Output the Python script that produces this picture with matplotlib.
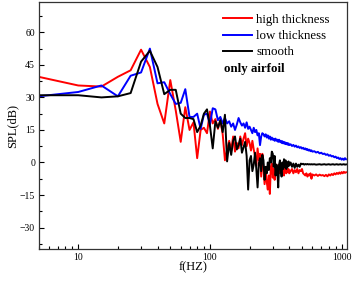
import numpy as np
import matplotlib
matplotlib.use('Agg')
import matplotlib.pyplot as plt
from matplotlib.ticker import LogLocator, MultipleLocator, FixedLocator, NullFormatter

plt.rcParams['font.family'] = ['Liberation Serif', 'DejaVu Serif']

# sampling grid of the spectra (Hz)
freq = np.concatenate([np.arange(5, 401, 5), np.arange(410, 601, 10), np.arange(620, 1081, 20)])

high_thickness = [
    39.5, 35.5, 35, 39.5, 42.5, 52, 44, 27, 18, 38,
    24, 9.5, 25.5, 15, 18.5, 2, 15, 16, 13.5, 23.5,
    18, 20, 15.5, 19.5, 13, 1, 6, 10, 5.5, 12,
    5, 9, 6.5, 12, 8, 11, 13.5, 7.5, 11, 9,
    5.5, 10, 6, 3, -1.5, 6.5, 1, 4, -6.5, 4,
    -3, -10, -3, -9, -12.5, -6, -14.5, -2, -0.5, -7,
    -3, -8, -2, -1, -5, -4, -1, -5, -4, -1,
    -5, -3, -6, -2, -4, -5, -3, -4.5, -3, -5,
    -4, -3, -5, -3.5, -4.5, -3, -5, -3.5, -4, -3,
    -5, -5.5, -6, -5, -6.5, -5.5, -6, -5, -7.5, -5.5,
    -6, -5.5, -6.2, -5.6, -6, -5.8, -6.3, -5.7, -6.4, -5.5,
    -6, -5.3, -5.8, -5, -5.5, -4.8, -5.3, -4.6, -5.2, -4.4,
    -5, -4.3, -4.8, -4.5,
]

low_thickness = [
    30.5, 32.5, 35.5, 30.5, 40, 41.5, 52.5, 36.5, 37, 31.5,
    27, 27.5, 33.8, 21, 21, 22.5, 15.5, 22, 22.5, 17.5,
    25, 24.5, 19.5, 21, 18, 20.5, 18, 19, 16.5, 18,
    15, 17.5, 20.5, 18.5, 17, 18, 16, 18.5, 15.5, 16.5,
    15, 13.5, 16, 14, 15, 12.5, 13.5, 8, 12, 13.5,
    13, 12, 13, 11.5, 12.5, 11, 12, 10.5, 11.5, 10.5,
    11, 10, 11, 10, 10.5, 9.5, 10.5, 9.5, 10, 9,
    9.8, 8.8, 9.5, 8.6, 9.2, 8.4, 9, 8.2, 8.8, 8,
    8.4, 7.6, 8.1, 7.3, 7.8, 7.0, 7.4, 6.7, 7.1, 6.4,
    6.8, 6.1, 6.5, 5.8, 6.2, 5.5, 5.9, 5.2, 5.6, 5.0,
    5.2, 4.6, 4.9, 4.2, 4.5, 3.9, 4.1, 3.5, 3.8, 3.1,
    3.4, 2.8, 3.0, 2.4, 2.7, 2.0, 2.3, 1.6, 2.0, 1.3,
    1.8, 1.2, 2.0, 1.5,
]

smooth = [
    31, 31, 30, 30.5, 32, 46.5, 51.5, 44, 31.5, 33.5,
    33.5, 22.5, 20.5, 20.5, 20, 14, 17, 22.5, 24.5, 17,
    6.5, 19, 16, 19.5, 14, 22, 0.5, 9, 3.5, 10,
    12, 6, 8, 11, 4.5, 7, 9.5, 3, -12.5, 1,
    3, -4, -1, 4.5, -3, -11.5, -0.5, 2, -4, 3.5,
    1, -8, -2, -5, 0, -3.5, 2, 0, 5, 4,
    -2, 3, -6, -1, -4, -11.5, -1, 1, -3, -6.5,
    0, -3, 1.5, -2, 1, -3, 0, -2, 0.5, -1.5,
    0, -2, -0.5, -2.5, -0.5, -2, -1, -2, -0.5, -0.8,
    -0.6, -1, -0.7, -0.9, -0.7, -0.9, -0.8, -0.9, -0.8, -0.9,
    -0.8, -1.0, -0.9, -0.8, -1.0, -0.9, -0.8, -1.0, -0.9, -0.8,
    -1.0, -0.9, -0.8, -1.0, -0.9, -0.8, -1.0, -0.9, -0.8, -1.0,
    -0.9, -0.8, -1.0, -0.9,
]

fig = plt.figure(figsize=(3.54, 2.81), dpi=100)
ax = fig.add_axes([0.109, 0.113, 0.870, 0.880])

ax.plot(freq, high_thickness, color='#ff0000', lw=1.4, label='high thickness')
ax.plot(freq, low_thickness, color='#0000ff', lw=1.4, label='low thickness')
ax.plot(freq, smooth, color='black', lw=1.4, label='smooth')

ax.set_xscale('log')
ax.set_xlim(5, 1090)
ax.set_ylim(-40, 74)
ax.set_xticks([10, 100, 1000])
ax.set_xticklabels(['10', '100', '1000'])
ax.xaxis.set_minor_locator(LogLocator(base=10, subs=np.arange(2, 10)))
ax.xaxis.set_minor_formatter(NullFormatter())
ax.yaxis.set_major_locator(FixedLocator([-30, -15, 0, 15, 30, 45, 60]))
ax.yaxis.set_minor_locator(MultipleLocator(7.5))

ax.tick_params(which='both', direction='in', top=False, right=False, labelsize=7, pad=2.5)
ax.tick_params(which='major', length=3.5, width=0.8)
ax.tick_params(which='minor', length=2, width=0.8)
for sp in ax.spines.values():
    sp.set_linewidth(0.9)
    sp.set_color('#333333')

ax.set_xlabel('f(HZ)', fontsize=9, labelpad=0)
ax.set_ylabel('SPL(dB)', fontsize=9, labelpad=1)

ax.legend(loc='upper left', fontsize=9.3, frameon=False, handlelength=2.3,
          handletextpad=0.3, labelspacing=0.32, borderaxespad=0, borderpad=0,
          bbox_to_anchor=(0.598, 0.952))
ax.text(0.602, 0.727, 'only airfoil', fontsize=9.3, fontweight='bold',
        transform=ax.transAxes, va='center', ha='left')

fig.savefig('out.png', dpi=100, facecolor='white')
